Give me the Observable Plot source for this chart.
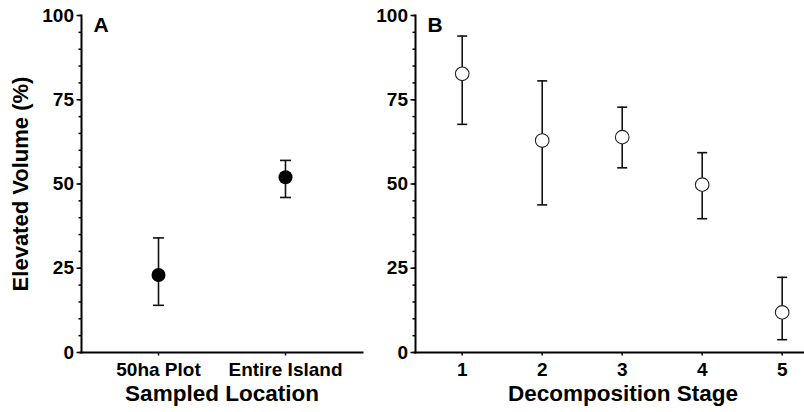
<!DOCTYPE html>
<html>
<head>
<meta charset="utf-8">
<script src="https://cdn.jsdelivr.net/npm/d3@7"></script>
<script src="https://cdn.jsdelivr.net/npm/@observablehq/plot@0.6"></script>
<style>
  html, body { margin: 0; padding: 0; background: #fff; }
  #wrap { position: relative; width: 804px; height: 412px; overflow: hidden; background: #fff; }
  #wrap > div { position: absolute; top: 0; height: 412px; }
  #panelA { left: 0; width: 372px; }
  #panelB { left: 370px; width: 460px; }
  #wrap svg { max-width: none !important; display: block; }
</style>
</head>
<body>
<div id="wrap"><div id="panelA"></div><div id="panelB"></div></div>
<script>
// Panel A data
const locations = ["50ha Plot", "Entire Island"];
const locMean = [23, 52];
const locLow = [14, 46];
const locHigh = [34, 57];

// Panel B data
const stages = [1, 2, 3, 4, 5];
const stageMean = [82.7, 62.9, 63.9, 49.8, 11.9];
const stageLow = [67.7, 43.8, 54.8, 39.7, 3.8];
const stageHigh = [93.9, 80.6, 72.8, 59.3, 22.3];

// Tick labels
const yTicks = [0, 25, 50, 75, 100];
const yMinorTicks = [0, 5, 10, 15, 20, 25, 30, 35, 40, 45, 50, 55, 60, 65, 70, 75, 80, 85, 90, 95, 100];

const FONT = "'Liberation Sans', Arial, Helvetica, sans-serif";
const capSymbol = {
  draw(context, size) {
    const r = Math.sqrt(size / Math.PI);
    context.moveTo(-r, 0);
    context.lineTo(r, 0);
  }
};

const dataA = locations.map((d, i) => ({loc: d, mean: locMean[i], low: locLow[i], high: locHigh[i]}));
const dataB = stages.map((d, i) => ({stage: d, mean: stageMean[i], low: stageLow[i], high: stageHigh[i]}));

function yAxisMarks(label) {
  const marks = [
    Plot.axisY(yMinorTicks, {tickSize: 2.5, text: null, strokeWidth: 1.5, label: null}),
    Plot.axisY(yTicks, {tickSize: 4.5, tickPadding: 3, fontSize: 19, fontWeight: "bold", strokeWidth: 1.5, label: null})
  ];
  if (label) {
    marks.push(Plot.axisY(yTicks, {tickSize: 0, text: null, fontSize: 22, fontWeight: "bold",
      label: label, labelAnchor: "center", labelArrow: "none", labelOffset: 69}));
  }
  return marks;
}

const plotA = Plot.plot({
  width: 372,
  height: 412,
  marginLeft: 81,
  marginRight: 10,
  marginTop: 15,
  marginBottom: 60,
  style: {fontFamily: FONT, background: "transparent", overflow: "visible", color: "#000", maxWidth: "none"},
  x: {type: "point", domain: locations, padding: 0.6, label: null},
  y: {domain: [0, 100], label: null},
  marks: [
    ...yAxisMarks("Elevated Volume (%)"),
    Plot.axisX({tickSize: 3.5, tickPadding: 6, fontSize: 19, fontWeight: "bold", strokeWidth: 1.5, label: null}),
    Plot.frame({anchor: "left", strokeWidth: 2}),
    Plot.frame({anchor: "bottom", strokeWidth: 2}),
    Plot.ruleX(dataA, {x: "loc", y1: "low", y2: "high", stroke: "#111", strokeWidth: 1.6}),
    Plot.dot(dataA, {x: "loc", y: "low", symbol: capSymbol, r: 5.5, stroke: "#111", strokeWidth: 1.6, fill: "none"}),
    Plot.dot(dataA, {x: "loc", y: "high", symbol: capSymbol, r: 5.5, stroke: "#111", strokeWidth: 1.6, fill: "none"}),
    Plot.dot(dataA, {x: "loc", y: "mean", r: 7, fill: "#000", stroke: "none"}),
    Plot.text(["A"], {frameAnchor: "top-left", dx: 12, dy: 2, fontSize: 21, fontWeight: "bold", lineAnchor: "top"}),
    Plot.text(["Sampled Location"], {frameAnchor: "bottom", dy: 48, fontSize: 22.5, fontWeight: "bold"})
  ]
});
document.getElementById("panelA").appendChild(plotA);

const plotB = Plot.plot({
  width: 460,
  height: 412,
  marginLeft: 45,
  marginRight: 0,
  marginTop: 15,
  marginBottom: 60,
  style: {fontFamily: FONT, background: "transparent", overflow: "visible", color: "#000", maxWidth: "none"},
  x: {domain: [0.416, 5.604], label: null},
  y: {domain: [0, 100], label: null},
  marks: [
    ...yAxisMarks(null),
    Plot.axisX(stages, {tickSize: 3.5, tickPadding: 6, fontSize: 19, fontWeight: "bold", strokeWidth: 1.5, label: null, tickFormat: d => String(d)}),
    Plot.frame({anchor: "left", strokeWidth: 2}),
    Plot.frame({anchor: "bottom", strokeWidth: 2}),
    Plot.ruleX(dataB, {x: "stage", y1: "low", y2: "high", stroke: "#111", strokeWidth: 1.6}),
    Plot.dot(dataB, {x: "stage", y: "low", symbol: capSymbol, r: 5, stroke: "#111", strokeWidth: 1.6, fill: "none"}),
    Plot.dot(dataB, {x: "stage", y: "high", symbol: capSymbol, r: 5, stroke: "#111", strokeWidth: 1.6, fill: "none"}),
    Plot.dot(dataB, {x: "stage", y: "mean", r: 6.8, fill: "#fff", stroke: "#222", strokeWidth: 1.1}),
    Plot.text(["B"], {frameAnchor: "top-left", dx: 12, dy: 2, fontSize: 21, fontWeight: "bold", lineAnchor: "top"}),
    Plot.text(["Decomposition Stage"], {frameAnchor: "bottom", dy: 48, fontSize: 22.5, fontWeight: "bold"})
  ]
});
document.getElementById("panelB").appendChild(plotB);
</script>
</body>
</html>
